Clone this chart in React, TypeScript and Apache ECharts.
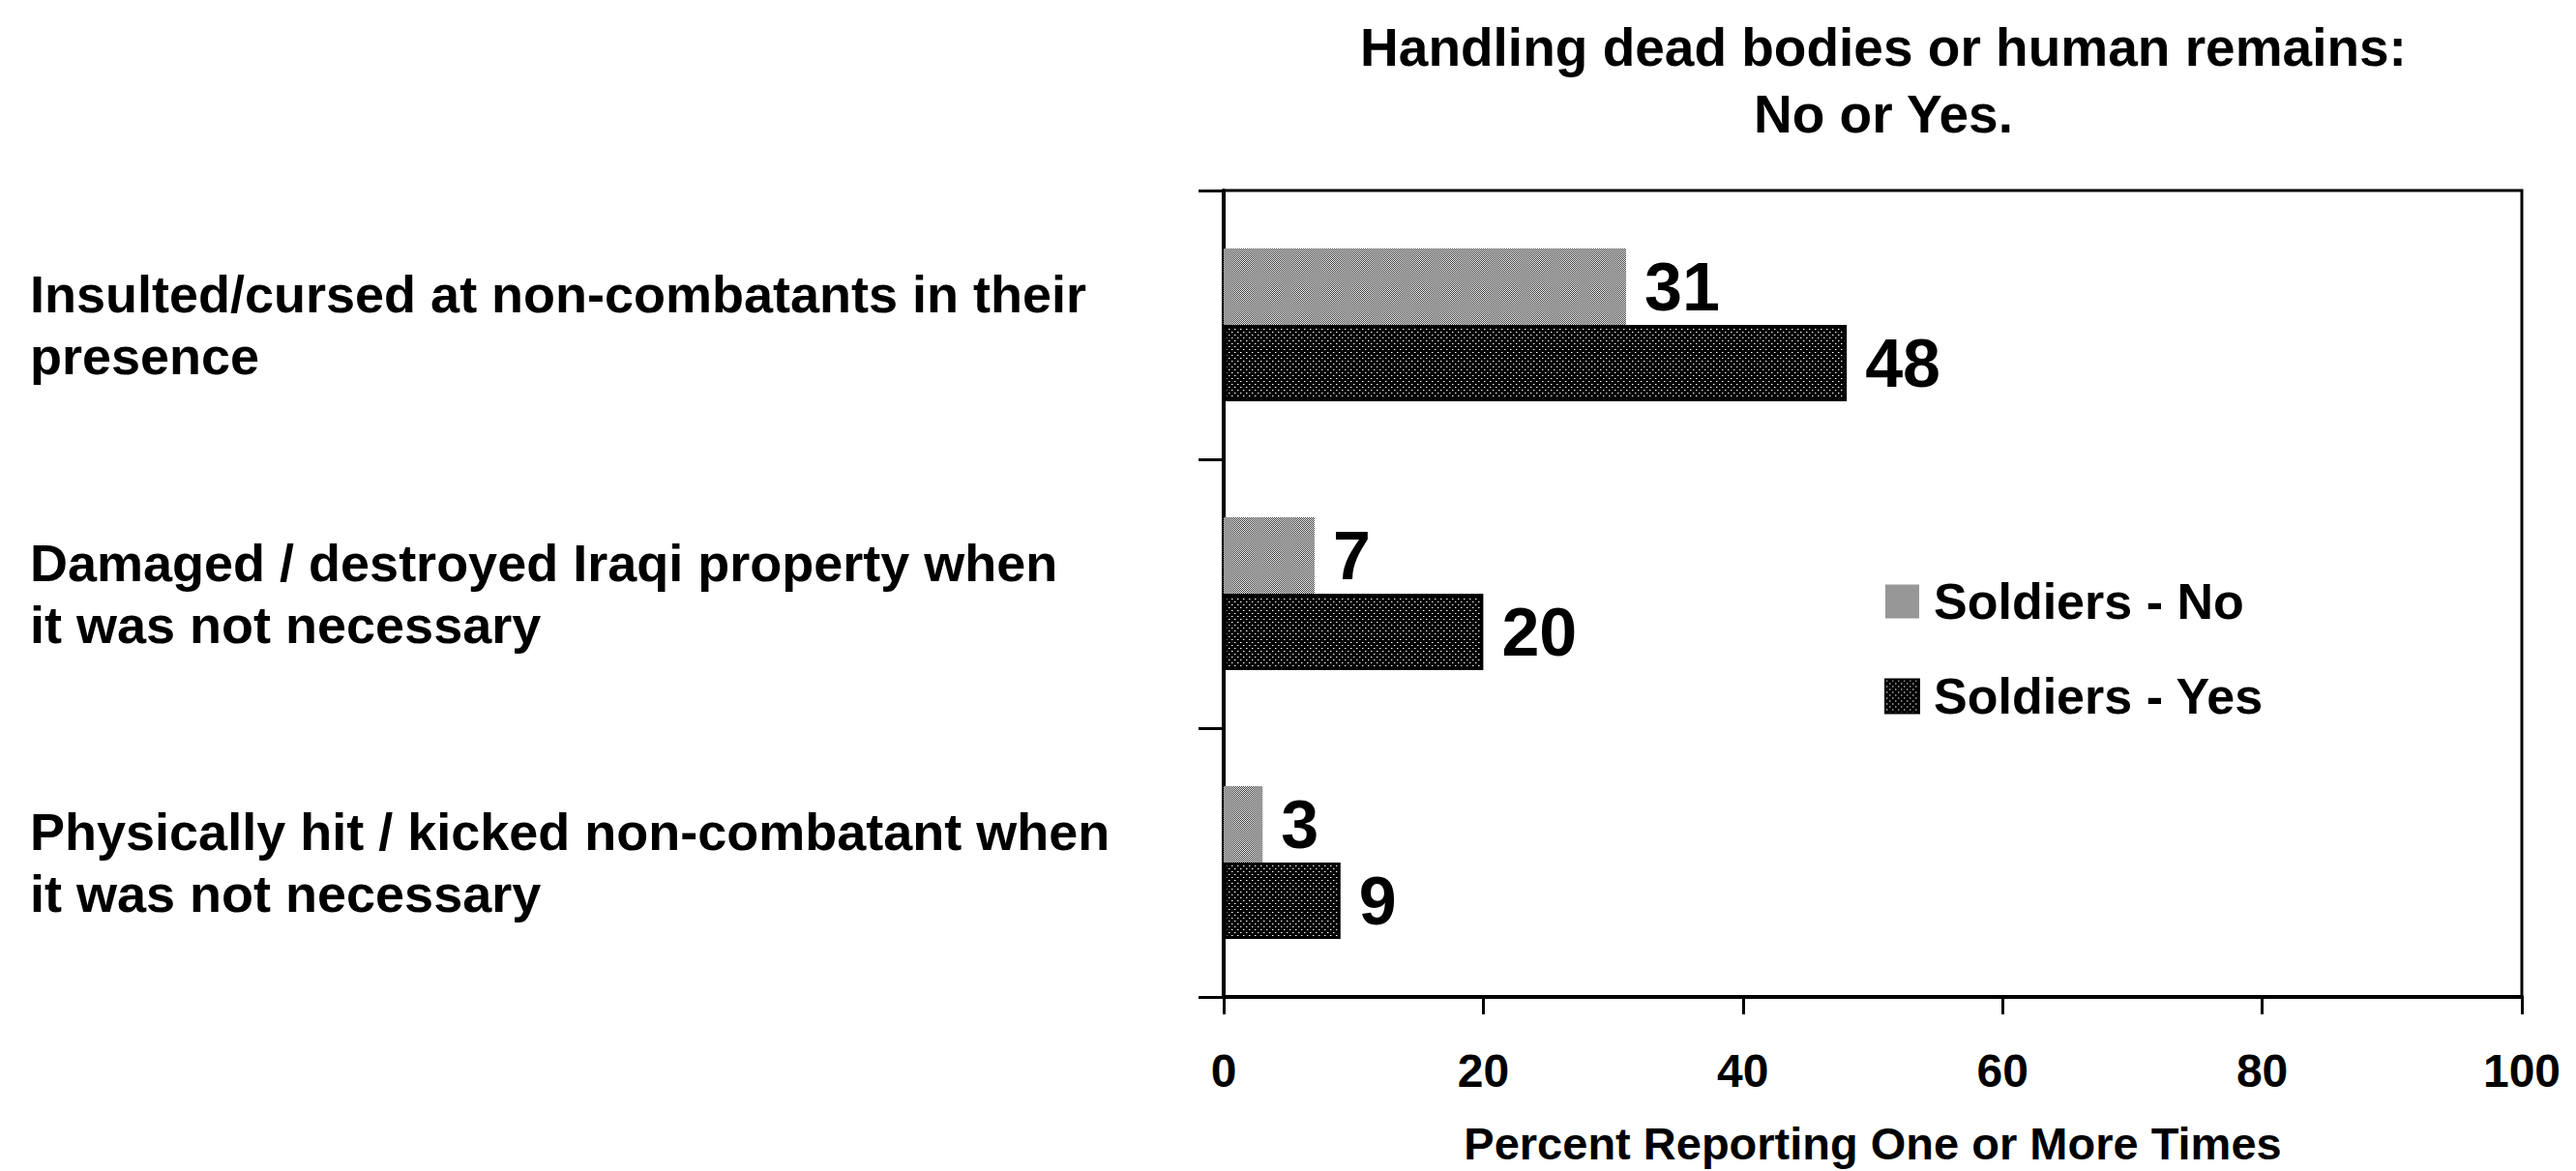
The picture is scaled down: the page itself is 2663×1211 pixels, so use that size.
import React, { useEffect, useRef } from "react";
import * as echarts from "echarts";

const categories = [
  "Insulted/cursed at non-combatants in their\npresence",
  "Damaged / destroyed Iraqi property when\nit was not necessary",
  "Physically hit / kicked non-combatant when\nit was not necessary",
];
const soldiersNo = [31, 7, 3];
const soldiersYes = [48, 20, 9];
const seriesNames = ["Soldiers - No", "Soldiers - Yes"];
const xTicks = [0, 20, 40, 60, 80, 100];
const titleLines = ["Handling dead bodies or human remains:", "No or Yes."];
const xAxisTitle = "Percent Reporting One or More Times";

function makeLightPattern(): HTMLCanvasElement {
  const c = document.createElement("canvas");
  c.width = 2;
  c.height = 2;
  const ctx = c.getContext("2d")!;
  ctx.fillStyle = "#f2f2f2";
  ctx.fillRect(0, 0, 2, 2);
  ctx.fillStyle = "#3c3c3c";
  ctx.fillRect(0, 0, 1, 1);
  ctx.fillRect(1, 1, 1, 1);
  return c;
}

function makeDarkPattern(): HTMLCanvasElement {
  const c = document.createElement("canvas");
  c.width = 6;
  c.height = 6;
  const ctx = c.getContext("2d")!;
  ctx.fillStyle = "#000000";
  ctx.fillRect(0, 0, 6, 6);
  ctx.fillStyle = "#ffffff";
  ctx.fillRect(1, 1, 1, 1);
  ctx.fillRect(4, 4, 1, 1);
  ctx.fillStyle = "#777777";
  ctx.fillRect(2, 1, 1, 1);
  ctx.fillRect(5, 4, 1, 1);
  return c;
}

export default function App() {
  const ref = useRef<HTMLDivElement>(null);
  useEffect(() => {
    if (!ref.current) return;
    const chart = echarts.init(ref.current, null, { renderer: "svg" });
    const light = makeLightPattern();
    const dark = makeDarkPattern();
    const lightFill: any = { image: light, repeat: "repeat", imageWidth: 2, imageHeight: 2 };
    const darkFill: any = { image: dark, repeat: "repeat", imageWidth: 6, imageHeight: 6 };
    const font = "'Liberation Sans', Arial, sans-serif";
    const option: any = {
      animation: false,
      backgroundColor: "#ffffff",
      textStyle: { fontFamily: font, color: "#000" },
      title: {
        text: titleLines.join("\n"),
        left: 1942,
        top: 9,
        textAlign: "center",
        textStyle: {
          fontFamily: font,
          fontSize: 55,
          fontWeight: "bold",
          color: "#000",
          lineHeight: 69,
        },
      },
      legend: {
        orient: "vertical",
        left: 1943,
        top: 591,
        itemWidth: 35,
        itemHeight: 35,
        itemGap: 46,
        icon: "rect",
        data: seriesNames,
        textStyle: {
          fontFamily: font,
          fontSize: 52,
          fontWeight: "bold",
          color: "#000",
          padding: [0, 0, 0, 10],
        },
      },
      grid: {
        left: 1265,
        right: 56,
        top: 197,
        bottom: 173,
        show: true,
        borderColor: "#000",
        borderWidth: 3,
        backgroundColor: "transparent",
      },
      xAxis: {
        type: "value",
        min: 0,
        max: 100,
        interval: 20,
        name: xAxisTitle,
        nameLocation: "middle",
        nameGap: 128,
        nameTextStyle: {
          fontFamily: font,
          fontSize: 47,
          fontWeight: "bold",
          color: "#000",
        },
        axisLine: { show: true, lineStyle: { color: "#000", width: 4 } },
        axisTick: { show: true, length: 18, lineStyle: { color: "#000", width: 3 } },
        splitLine: { show: false },
        axisLabel: {
          fontFamily: font,
          fontSize: 48,
          fontWeight: "bold",
          color: "#000",
          margin: 52,
          formatter: (v: number) => (xTicks.includes(v) ? String(v) : ""),
        },
      },
      yAxis: {
        type: "category",
        inverse: true,
        data: categories,
        axisLine: { show: true, lineStyle: { color: "#000", width: 4 } },
        axisTick: { show: true, length: 26, lineStyle: { color: "#000", width: 3 } },
        axisLabel: {
          fontFamily: font,
          fontSize: 54,
          fontWeight: "bold",
          color: "#000",
          align: "left",
          margin: 1234,
          lineHeight: 64,
        },
      },
      series: [
        {
          name: seriesNames[0],
          type: "bar",
          data: soldiersNo,
          barWidth: 79,
          barGap: "0%",
          itemStyle: { color: lightFill, borderWidth: 0 },
          label: {
            show: true,
            position: "right",
            distance: 19,
            fontFamily: font,
            fontSize: 70,
            fontWeight: "bold",
            color: "#000",
          },
        },
        {
          name: seriesNames[1],
          type: "bar",
          data: soldiersYes,
          barWidth: 79,
          barGap: "0%",
          itemStyle: { color: darkFill, borderColor: "#000", borderWidth: 3 },
          label: {
            show: true,
            position: "right",
            distance: 19,
            fontFamily: font,
            fontSize: 70,
            fontWeight: "bold",
            color: "#000",
          },
        },
      ],
    };
    chart.setOption(option);
    return () => chart.dispose();
  }, []);
  return (
    <div
      ref={ref}
      style={{ position: "fixed", left: 0, top: 0, width: 2663, height: 1211, background: "#fff" }}
    />
  );
}
